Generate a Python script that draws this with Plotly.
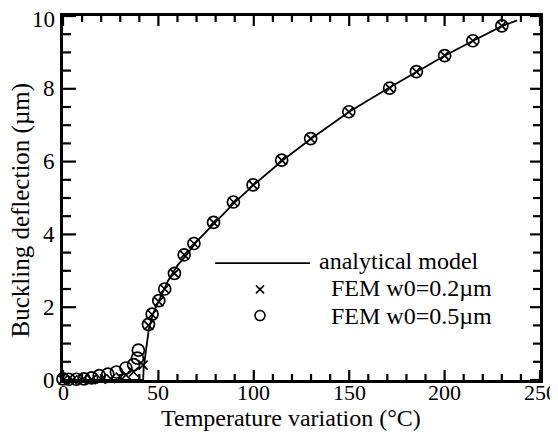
import plotly.graph_objects as go

# ---- data ----
analytical_x = [0, 42, 42.3, 42.7, 43.5, 45, 47, 50, 55, 60, 65, 70, 80, 90, 100,
                115, 130, 150, 170, 185, 200, 215, 230, 238]
analytical_y = [0, 0, 0.35, 0.5, 0.9, 1.4, 1.8, 2.15, 2.72, 3.15, 3.45, 3.8, 4.35,
                4.88, 5.36, 6.03, 6.63, 7.37, 8.0, 8.46, 8.91, 9.32, 9.72, 9.88]

fem02_x = [0, 5, 10, 15, 20, 25, 30, 33, 37, 42, 44.8, 46.7, 50.2, 53.3, 58.4,
           63.5, 68.6, 78.9, 89.3, 99.6, 114.6, 129.8, 149.8, 171.2, 185.2,
           200.0, 214.8, 230.0]
fem02_y = [0, 0, 0, 0.01, 0.02, 0.04, 0.08, 0.14, 0.22, 0.41, 1.5, 1.8, 2.15,
           2.5, 2.93, 3.44, 3.75, 4.33, 4.89, 5.36, 6.04, 6.63, 7.37, 8.02,
           8.47, 8.91, 9.32, 9.73]

fem05_x = [0, 3, 7, 11, 15, 19, 23.5, 28, 33, 37, 39, 39.5, 44.8, 46.7, 50.2,
           53.3, 58.4, 63.5, 68.6, 78.9, 89.3, 99.6, 114.6, 129.8, 149.8,
           171.2, 185.2, 200.0, 214.8, 230.0]
fem05_y = [0.03, 0.02, 0.02, 0.03, 0.06, 0.12, 0.16, 0.22, 0.33, 0.42, 0.6,
           0.82, 1.53, 1.81, 2.18, 2.5, 2.93, 3.44, 3.75, 4.33, 4.89, 5.36,
           6.04, 6.63, 7.37, 8.02, 8.47, 8.91, 9.32, 9.73]

x_ticks = [0, 50, 100, 150, 200, 250]
x_minor_step = 10
y_ticks = [0, 2, 4, 6, 8, 10]
y_minor_step = 0.5

legend_labels = ["analytical model", "FEM w0=0.2µm", "FEM w0=0.5µm"]
x_title = "Temperature variation (°C)"
y_title = "Buckling deflection (µm)"

FONT = "Times New Roman, Liberation Serif, Times, serif"
BLACK = "black"

W, H = 550, 435
ML, MR, MT, MB = 55, 18, 8, 63
x_range = [0, 250]
y_range = [0, 10]
plot_w = W - ML - MR
plot_h = H - MT - MB
px_x = (x_range[1] - x_range[0]) / plot_w   # data units per pixel
px_y = (y_range[1] - y_range[0]) / plot_h

fig = go.Figure()

# ---- tick marks as line traces on the axes' own scales (inside, mirrored) ----
tx, ty = [], []
n_xminor = int(round((x_range[1] - x_range[0]) / x_minor_step))
for i in range(n_xminor + 1):
    v = x_range[0] + i * x_minor_step
    L = (10 if v in x_ticks else 6) * px_y
    tx += [v, v, None, v, v, None]
    ty += [y_range[0], y_range[0] + L, None, y_range[1], y_range[1] - L, None]
n_yminor = int(round((y_range[1] - y_range[0]) / y_minor_step))
for i in range(n_yminor + 1):
    v = y_range[0] + i * y_minor_step
    major = v in y_ticks
    L1 = (13 if major else 8) * px_x
    L2 = (10 if major else 7) * px_x
    tx += [x_range[0], x_range[0] + L1, None, x_range[1], x_range[1] - L2, None]
    ty += [v, v, None, v, v, None]
fig.add_trace(go.Scatter(x=tx, y=ty, mode="lines", line=dict(color=BLACK, width=2.2),
                         hoverinfo="skip", showlegend=False, cliponaxis=False))

fig.add_trace(go.Scatter(x=analytical_x, y=analytical_y, mode="lines",
                         line=dict(color=BLACK, width=1.8),
                         name=legend_labels[0], showlegend=False, cliponaxis=False))
fig.add_trace(go.Scatter(x=fem02_x, y=fem02_y, mode="markers",
                         marker=dict(symbol="x-thin-open", size=9, color=BLACK,
                                     line=dict(color=BLACK, width=1.7)),
                         name=legend_labels[1], showlegend=False, cliponaxis=False))
fig.add_trace(go.Scatter(x=fem05_x, y=fem05_y, mode="markers",
                         marker=dict(symbol="circle-open", size=12, color=BLACK,
                                     line=dict(color=BLACK, width=1.7)),
                         name=legend_labels[2], showlegend=False, cliponaxis=False))

fig.update_layout(
    xaxis=dict(range=x_range, showticklabels=False, ticks="",
               showline=True, linecolor=BLACK, linewidth=2.8, mirror=True,
               showgrid=False, zeroline=False, automargin=False),
    yaxis=dict(range=y_range, showticklabels=False, ticks="",
               showline=True, linecolor=BLACK, linewidth=2.8, mirror=True,
               showgrid=False, zeroline=False, automargin=False),
)

# ---- tick labels ----
for v in x_ticks:
    fig.add_annotation(x=v, y=0, xref="x", yref="paper", text=str(v), showarrow=False,
                       xanchor="center", yanchor="middle", yshift=-12,
                       font=dict(family=FONT, size=22, color=BLACK))
for v in y_ticks:
    fig.add_annotation(x=0, y=v, xref="paper", yref="y", text=str(v), showarrow=False,
                       xanchor="right", yanchor="middle", xshift=-6,
                       yshift=-3 if v == y_ticks[-1] else 0,
                       font=dict(family=FONT, size=23, color=BLACK))

# ---- axis titles ----
fig.add_annotation(text=x_title, xref="paper", yref="paper",
                   x=0.478, y=-0.105, showarrow=False, xanchor="center", yanchor="middle",
                   font=dict(family=FONT, size=24, color=BLACK))
fig.add_annotation(text=y_title, xref="paper", yref="paper",
                   x=-0.087, y=0.467, showarrow=False, textangle=-90,
                   xanchor="center", yanchor="middle",
                   font=dict(family=FONT, size=25, color=BLACK))

# ---- custom legend ----
fig.add_shape(type="line", xref="paper", yref="paper", x0=0.319, x1=0.518,
              y0=0.321, y1=0.321, line=dict(color=BLACK, width=1.8))
fig.add_annotation(text=legend_labels[0], xref="paper", yref="paper", x=0.532, y=0.326,
                   showarrow=False, xanchor="left", yanchor="middle",
                   font=dict(family=FONT, size=24, color=BLACK))
fig.add_annotation(text=legend_labels[1], xref="paper", yref="paper", x=0.557, y=0.252,
                   showarrow=False, xanchor="left", yanchor="middle",
                   font=dict(family=FONT, size=24, color=BLACK))
fig.add_annotation(text=legend_labels[2], xref="paper", yref="paper", x=0.557, y=0.176,
                   showarrow=False, xanchor="left", yanchor="middle",
                   font=dict(family=FONT, size=24, color=BLACK))
lx = 0.413
for dx0, dy0, dx1, dy1 in [(-4, -4, 4, 4), (-4, 4, 4, -4)]:
    fig.add_shape(type="line", xref="paper", yref="paper", xsizemode="pixel",
                  ysizemode="pixel", xanchor=lx, yanchor=0.249,
                  x0=dx0, y0=dy0, x1=dx1, y1=dy1, line=dict(color=BLACK, width=1.6))
fig.add_shape(type="circle", xref="paper", yref="paper", xsizemode="pixel",
              ysizemode="pixel", xanchor=lx, yanchor=0.177,
              x0=-5, y0=-5, x1=5, y1=5, line=dict(color=BLACK, width=1.6))

# page body has an 8px default margin -> figure is 550x435, offset accordingly
fig.update_layout(width=W, height=H, plot_bgcolor="white", paper_bgcolor="white",
                  template="none",
                  font=dict(family=FONT, size=22, color=BLACK),
                  margin=dict(l=ML, r=MR, t=MT, b=MB), showlegend=False)

fig.write_html("out.html")
